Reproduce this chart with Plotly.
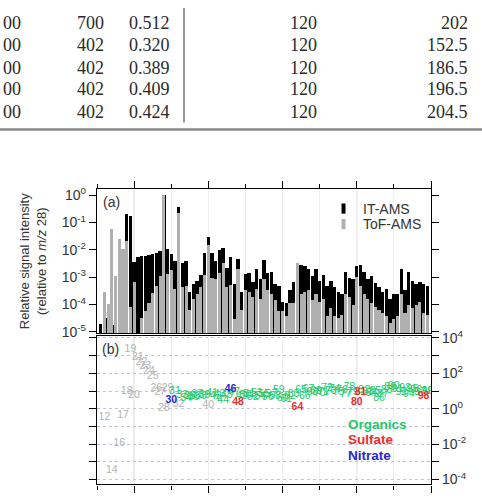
import plotly.graph_objects as go

W, H = 482, 503

# ---------------- table fragment (top of page) ----------------
tab_c1 = ["00", "00", "00", "00", "00"]
tab_c2 = ["700", "402", "402", "402", "402"]
tab_c3 = ["0.512", "0.320", "0.389", "0.409", "0.424"]
tab_c4 = ["120", "120", "120", "120", "120"]
tab_c5 = ["202", "152.5", "186.5", "196.5", "204.5"]

# ---------------- panel (a): relative signal intensity ----------------
mz_bars = list(range(11, 100))
it_ams = [1.9e-5, 7.9e-5, 3.2e-5, 1.8e-5, 3.2e-4, 2.8e-4, 4.3e-3, 0.20, 0.17, 3.5e-3,
          5.5e-3, 5.8e-3, 6.0e-3, 6.3e-3, 6.9e-3, 7.6e-3, 8.9e-3, 0.95, 1.0e-2, 7.1e-3,
          3.7e-3, 0.37, 3.2e-3, 3.9e-3, 2.8e-4, 5.5e-4, 7.2e-4, 1.2e-3, 7.2e-3, 2.8e-2,
          7.2e-3, 3.9e-3, 9.5e-3, 1.1e-2, 2.1e-3, 5.1e-3, 5.5e-4, 4.6e-3, 2.8e-4, 1.3e-3,
          1.4e-3, 6.3e-4, 1.9e-3, 8.1e-4, 4.2e-3, 1.4e-3, 1.5e-3, 5.5e-4, 4.8e-4, 1.2e-4,
          1.1e-4, 3.2e-4, 6.3e-4, 3.2e-3, 2.8e-3, 2.5e-3, 1.9e-3, 1.1e-3, 1.9e-3, 7.2e-4,
          1.2e-3, 4.8e-4, 7.2e-4, 4.2e-4, 2.8e-4, 2.4e-4, 1.5e-3, 9.3e-4, 8.1e-4, 2.5e-3,
          2.8e-3, 1.5e-3, 8.1e-4, 1.1e-3, 5.8e-4, 4.2e-4, 2.8e-4, 3.6e-4, 1.6e-4, 2.4e-4,
          2.4e-4, 2.0e-3, 3.2e-4, 1.5e-3, 7.2e-4, 5.5e-4, 6.3e-4, 5.5e-4, 4.8e-4]
tof_ams = [None, 2.8e-4, 1.0e-4, 5.6e-2, 1.1e-3, 2.5e-2, 1.0e-2, 2.0e-2, 7.9e-5, 6.3e-4,
           None, 3.2e-5, 5.4e-5, 1.1e-4, 2.5e-4, 4.8e-4, 1.1e-3, 1.0, 1.3e-3, 1.8e-3,
           3.6e-4, 0.21, 4.2e-4, 4.8e-4, 6.2e-5, 1.6e-4, 2.4e-4, 4.2e-4, 1.2e-3, 1.4e-2,
           9.3e-4, 8.1e-4, 1.4e-3, 3.2e-3, 4.2e-4, 5.0e-4, 2.8e-5, 1.9e-3, 6.2e-5, 3.2e-4,
           2.8e-4, 1.9e-4, 3.6e-4, 1.6e-4, 8.1e-4, 3.2e-4, 2.4e-4, 1.4e-4, 5.4e-5, 5.4e-5,
           3.6e-5, 1.1e-4, 1.1e-4, 3.3e-3, 2.4e-4, 2.8e-4, 3.2e-4, 1.4e-4, 2.4e-4, 1.2e-4,
           1.6e-4, 3.6e-5, 7.1e-5, 3.6e-5, 3.2e-5, 4.1e-5, 2.4e-4, 1.9e-4, 9.3e-5, 1.0e-3,
           4.8e-4, 2.4e-4, 1.6e-4, 1.1e-4, 8.1e-5, 6.2e-5, 4.7e-5, 3.6e-5, 2.1e-5, 2.8e-5,
           3.6e-5, 2.4e-4, 4.7e-5, 9.3e-5, 7.1e-5, 9.3e-5, 1.2e-4, 4.7e-5, 4.1e-5]

# ---------------- panel (b): IT-AMS / ToF-AMS ratio, labelled by m/z ----------------
other_mz = [12, 14, 16, 17, 18, 19, 20, 21, 22, 23, 24, 25, 26, 27, 28, 29, 32, 40]
other_ratio = [0.31, 3.2e-4, 1.15e-2, 0.42, 9.8, 2300, 5.9, 790, 430, 245, 132, 65,
               15, 8.5, 1.0, 15, 1.8, 1.45]
nitrate_mz = [30, 46]
nitrate_ratio = [3.0, 12]
sulfate_mz = [48, 64, 80, 81, 98]
sulfate_ratio = [2.4, 1.17, 2.4, 7.9, 4.8]
org_mz = [31, 33, 34, 35, 36, 37, 38, 39, 41, 42, 43, 44, 45, 47, 49, 50, 51, 52, 53,
          54, 55, 56, 57, 58, 59, 60, 61, 62, 63, 65, 66, 67, 68, 69, 70, 71, 72, 73,
          74, 75, 76, 77, 78, 79, 82, 83, 84, 85, 86, 87, 88, 89, 90, 91, 92, 93, 94,
          95, 96, 97, 99, 100]
org_ratio = [9.8, 5.6, 4.0, 5.0, 4.5, 6.3, 5.0, 5.6, 7.1, 5.0, 6.3, 3.1, 5.6, 7.9, 5.0,
             5.6, 6.3, 4.5, 7.1, 5.0, 6.3, 4.5, 6.3, 5.0, 11, 4.0, 3.2, 5.0, 6.3, 11,
             4.8, 12.6, 7.9, 10, 7.1, 8.9, 14, 10, 12.6, 7.9, 11, 6.3, 16, 8.9, 11, 8.9,
             7.1, 10, 3.7, 6.3, 11, 16, 18, 12.6, 8.9, 14, 6.3, 12.6, 11, 8.9, 9.5, 10]

yticks_a = [1e-5, 1e-4, 1e-3, 1e-2, 1e-1, 1]
yticks_a_text = ["10<sup>-5</sup>", "10<sup>-4</sup>", "10<sup>-3</sup>",
                 "10<sup>-2</sup>", "10<sup>-1</sup>", "10<sup>0</sup>"]
yticks_b = [1e-4, 1e-3, 1e-2, 1e-1, 1, 10, 100, 1e3, 1e4]
yticks_b_text = ["10<sup>-4</sup>", " ", "10<sup>-2</sup>", " ", "10<sup>0</sup>", " ",
                 "10<sup>2</sup>", " ", "10<sup>4</sup>"]

SANS = "Liberation Sans, Arial, sans-serif"
SERIF = "Liberation Serif, Times New Roman, serif"
GREEN = "#22c96a"
RED = "#ee2b2b"
BLUE = "#2525d6"
GRAYTXT = "#b2b2b2"
GRAYBAR = "#b0b0b0"

def px(x):
    return x / W

def py(y):
    return 1 - y / H

fig = go.Figure()

# panel a bars (gray drawn in front of black)
fig.add_trace(go.Bar(x=mz_bars, y=it_ams, name="IT-AMS", marker=dict(color="black", line=dict(width=0)),
                     width=0.92, xaxis="x2", yaxis="y", showlegend=False))
fig.add_trace(go.Bar(x=mz_bars, y=tof_ams, name="ToF-AMS", marker=dict(color=GRAYBAR, line=dict(width=0)),
                     width=0.84, xaxis="x2", yaxis="y", showlegend=False))

# panel b text markers
def add_labels(mz, ratio, color, bold):
    txt = [("<b>%d</b>" % m) if bold else str(m) for m in mz]
    fig.add_trace(go.Scatter(x=mz, y=ratio, mode="text", text=txt,
                             textfont=dict(family=SANS, size=10.5, color=color),
                             xaxis="x", yaxis="y2", showlegend=False, hoverinfo="skip"))

add_labels(other_mz, other_ratio, GRAYTXT, False)
add_labels(org_mz, org_ratio, GREEN, False)
add_labels(sulfate_mz, sulfate_ratio, RED, True)
add_labels(nitrate_mz, nitrate_ratio, BLUE, True)

XDOM = [px(97), px(431)]
A_DOM = [py(335), py(187)]
B_DOM = [py(491), py(338)]

axis_common = dict(showline=True, linecolor="black", linewidth=1.3, zeroline=False)

fig.update_layout(
    width=W, height=H, margin=dict(l=0, r=0, t=0, b=0),
    paper_bgcolor="white", plot_bgcolor="white",
    barmode="overlay", bargap=0,
    xaxis=dict(domain=XDOM, anchor="y2", range=[10, 100], tick0=0, dtick=20,
               ticks="outside", ticklen=7, tickwidth=1.2, tickcolor="black",
               showticklabels=False, mirror=True,
               showgrid=True, gridcolor="#eeeeee", gridwidth=1,
               minor=dict(dtick=10, tick0=0, ticks="outside", ticklen=4, tickcolor="black",
                          showgrid=True, gridcolor="#eeeeee"),
               **axis_common),
    xaxis2=dict(domain=XDOM, anchor="y", matches="x", range=[10, 100], side="top",
                tick0=0, dtick=20, ticks="outside", ticklen=7, tickwidth=1.2, tickcolor="black",
                showticklabels=False, mirror=True,
                showgrid=True, gridcolor="#eeeeee", gridwidth=1,
                minor=dict(dtick=10, tick0=0, ticks="outside", ticklen=4, tickcolor="black",
                           showgrid=True, gridcolor="#eeeeee"),
                **axis_common),
    yaxis=dict(domain=A_DOM, anchor="x2", type="log", range=[-5.04, 0.21],
               tickmode="array", tickvals=yticks_a, ticktext=yticks_a_text,
               ticks="outside", ticklen=7, tickwidth=1.2, tickcolor="black",
               tickfont=dict(family=SANS, size=14, color="#333333"),
               mirror="ticks", showgrid=False, **axis_common),
    yaxis2=dict(domain=B_DOM, anchor="x", type="log", range=[-4.27, 4.11], side="right",
                tickmode="array", tickvals=yticks_b, ticktext=yticks_b_text,
                ticks="outside", ticklen=7, tickwidth=1.2, tickcolor="black",
                tickfont=dict(family=SANS, size=14, color="#333333"),
                mirror="ticks", showgrid=True, gridcolor="#c4c4e2", gridwidth=1, griddash="dot",
                **axis_common),
)

shapes = []
# light blue vertical cursor lines at m/z 20 and 80 in both panels
for xv in [20, 80]:
    shapes.append(dict(type="line", xref="x2", yref="y domain", x0=xv, x1=xv, y0=0, y1=1,
                       line=dict(color="#c6c6f2", width=1), layer="below"))
    shapes.append(dict(type="line", xref="x", yref="y2 domain", x0=xv, x1=xv, y0=0, y1=1,
                       line=dict(color="#c6c6f2", width=1), layer="below"))
# legend swatches for panel a
shapes.append(dict(type="rect", xref="paper", yref="paper", x0=px(341.5), x1=px(345.5),
                   y0=py(212), y1=py(201.5), fillcolor="black", line=dict(width=0)))
shapes.append(dict(type="rect", xref="paper", yref="paper", x0=px(341.5), x1=px(345.5),
                   y0=py(228), y1=py(217.5), fillcolor=GRAYBAR, line=dict(width=0)))
# table rules
shapes.append(dict(type="line", xref="paper", yref="paper", x0=px(184), x1=px(184),
                   y0=py(118), y1=1, line=dict(color="#333333", width=1)))
shapes.append(dict(type="line", xref="paper", yref="paper", x0=0, x1=1,
                   y0=py(125.3), y1=py(125.3), line=dict(color="#8a8a8a", width=2.5)))
fig.update_layout(shapes=shapes)

ann = []
rows_y = [15, 38.5, 61.5, 84, 107]
for i, yy in enumerate(rows_y):
    for txt, xx, anchor in [(tab_c1[i], 1, "left"), (tab_c2[i], 105.5, "right"),
                            (tab_c3[i], 172, "right"), (tab_c4[i], 318.5, "right"),
                            (tab_c5[i], 470, "right")]:
        ann.append(dict(text=txt, x=px(xx), y=py(yy), xref="paper", yref="paper",
                        xanchor=anchor, yanchor="middle", showarrow=False,
                        font=dict(family=SERIF, size=18, color="#2a2a2a")))

ann += [
    dict(text="(a)", x=px(101), y=py(200), xanchor="left", yanchor="middle"),
    dict(text="(b)", x=px(100), y=py(351), xanchor="left", yanchor="middle"),
    dict(text="IT-AMS", x=px(361), y=py(207), xanchor="left", yanchor="middle"),
    dict(text="ToF-AMS", x=px(361), y=py(222.5), xanchor="left", yanchor="middle"),
]
for a in ann[-4:]:
    a.update(xref="paper", yref="paper", showarrow=False,
             font=dict(family=SANS, size=14, color="#333333"))

ann.append(dict(text="Relative signal intensity<br>(relative to <i>m/z</i> 28)",
                x=px(33), y=py(261), xref="paper", yref="paper", xanchor="center",
                yanchor="middle", textangle=-90, showarrow=False,
                font=dict(family=SANS, size=13, color="#333333")))

for txt, col, yy in [("Organics", GREEN, 429), ("Sulfate", RED, 445), ("Nitrate", BLUE, 461)]:
    ann.append(dict(text="<b>%s</b>" % txt, x=px(346), y=py(yy), xref="paper", yref="paper",
                    xanchor="left", yanchor="middle", showarrow=False,
                    font=dict(family=SANS, size=13.5, color=col)))

fig.update_layout(annotations=ann)

fig.write_html("out.html")
